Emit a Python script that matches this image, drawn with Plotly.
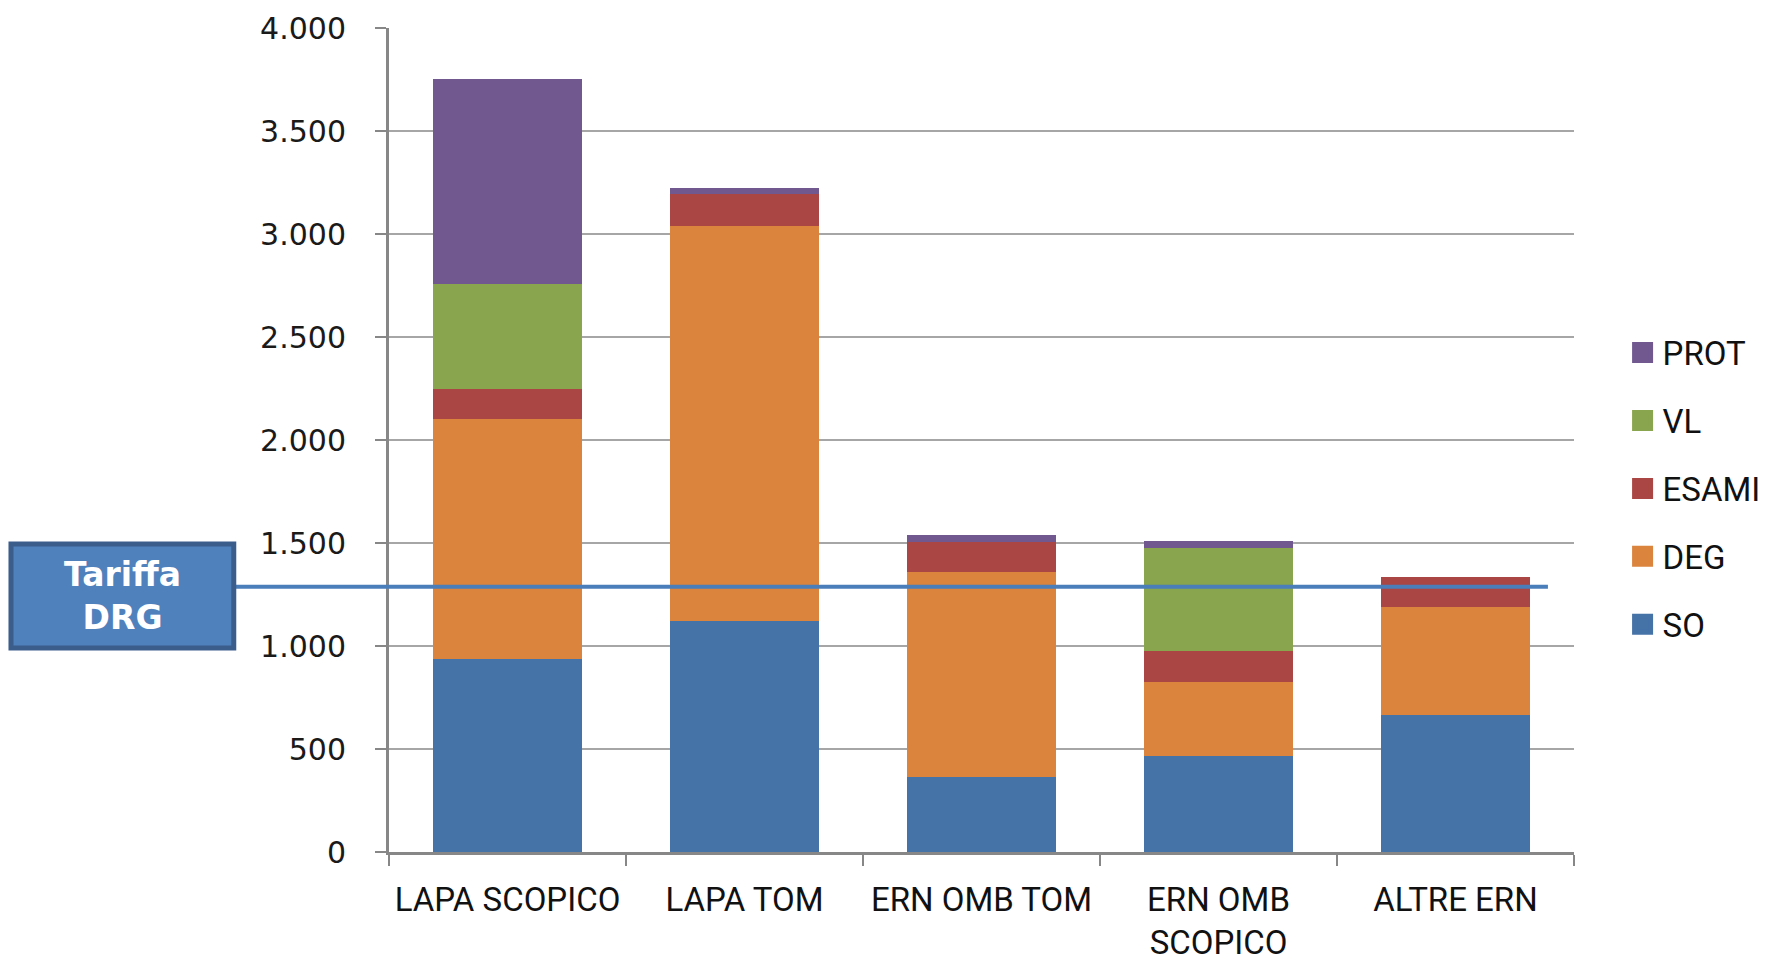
import plotly.graph_objects as go

categories = ["LAPA SCOPICO", "LAPA TOM", "ERN OMB TOM", "ERN OMB<br>SCOPICO", "ALTRE ERN"]
series_names = ["SO", "DEG", "ESAMI", "VL", "PROT"]
so = [937, 1123, 362, 466, 663]
deg = [1167, 1918, 999, 361, 524]
esami = [143, 154, 142, 148, 147]
vl = [509, 0, 0, 501, 0]
prot = [997, 27, 37, 32, 0]
tariffa_drg = 1288
y_ticks = [0, 500, 1000, 1500, 2000, 2500, 3000, 3500, 4000]

colors = {"SO": "#4572A7", "DEG": "#DB843D", "ESAMI": "#AA4643", "VL": "#89A54E", "PROT": "#71588F"}
values = {"SO": so, "DEG": deg, "ESAMI": esami, "VL": vl, "PROT": prot}

label_font = "Roboto, Liberation Sans, sans-serif"

fig = go.Figure()
for name in series_names:
    fig.add_trace(go.Bar(
        x=categories, y=values[name], name=name,
        marker=dict(color=colors[name], line=dict(width=0)),
        width=0.625, showlegend=False,
    ))
# legend entries (larger square swatches), top to bottom: PROT ... SO
n = len(series_names)
for i, name in enumerate(series_names):
    fig.add_trace(go.Scatter(
        x=[None], y=[None], mode="markers", name=name,
        marker=dict(symbol="square", size=22, color=colors[name],
                    line=dict(color=colors[name], width=5)),
        legendgroup=name, legendrank=n - i, showlegend=True,
    ))

fig.update_layout(
    width=1769, height=963,
    margin=dict(l=389, r=195, t=28, b=111, autoexpand=False),
    plot_bgcolor="white", paper_bgcolor="white",
    barmode="stack",
    separators=",.",
    showlegend=True,
    legend=dict(
        traceorder="grouped", tracegroupgap=22,
        x=1.041, xanchor="left", y=0.64, yanchor="top",
        font=dict(family=label_font, size=33, color="#111111"),
        bgcolor="rgba(0,0,0,0)",
    ),
    xaxis=dict(
        showline=True, linecolor="#878787", linewidth=3,
        ticks="outside", tickson="boundaries", ticklen=11, tickwidth=2, tickcolor="#878787",
        tickfont=dict(family=label_font, size=33, color="#111111"),
        tickangle=0, automargin=False, ticklabelstandoff=16,
        showgrid=False,
    ),
    yaxis=dict(
        range=[0, 4000], tickvals=y_ticks, tickformat=",d",
        showline=True, linecolor="#878787", linewidth=3,
        ticks="outside", ticklen=11, tickwidth=2, tickcolor="#878787",
        showgrid=True, gridcolor="#A6A6A6", gridwidth=2,
        zeroline=False, automargin=False,
        tickfont=dict(family="DejaVu Sans, Verdana, sans-serif", size=30, color="#1a1a1a"),
        ticklabelstandoff=23,
    ),
)

# Tariffa DRG reference line and box
fig.add_shape(type="line", xref="paper", yref="y",
              x0=-0.131, x1=0.978, y0=tariffa_drg, y1=tariffa_drg,
              line=dict(color="#4A7EBB", width=4), layer="above")
fig.add_shape(type="rect", xref="paper", yref="paper",
              x0=-0.319, x1=-0.131, y0=(852 - 648) / 824, y1=(852 - 544) / 824,
              fillcolor="#4F81BD", line=dict(color="#3A5D8B", width=5), layer="above")
fig.add_annotation(xref="paper", yref="paper",
                   x=(-0.319 - 0.131) / 2, y=(852 - 596) / 824,
                   text="<b>Tariffa<br>DRG</b>", showarrow=False,
                   font=dict(family="DejaVu Sans, Verdana, sans-serif", size=33, color="white"),
                   xanchor="center", yanchor="middle")

fig.write_html("out.html")
